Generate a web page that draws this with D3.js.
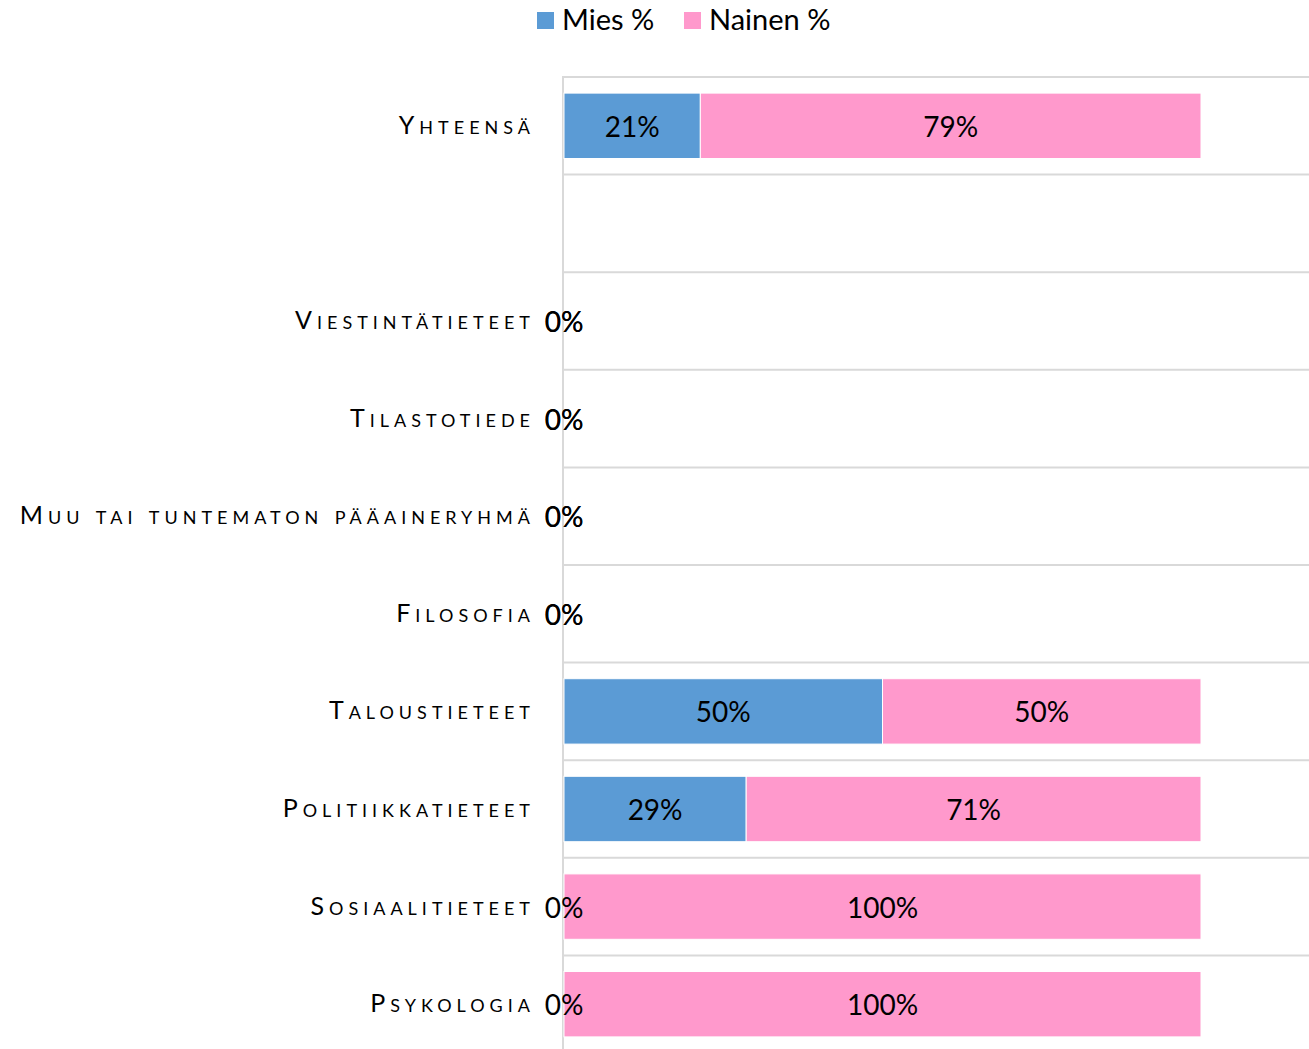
<!DOCTYPE html>
<html><head><meta charset="utf-8">
<script src="https://cdn.jsdelivr.net/npm/d3@7"></script>
<style>
html,body{margin:0;padding:0;background:#fff;}
svg{display:block;}
</style></head>
<body>
<svg id="chart" width="1309" height="1049"></svg>
<script>
const categories = ["Yhteensä","","Viestintätieteet","Tilastotiede","Muu tai tuntematon pääaineryhmä","Filosofia","Taloustieteet","Politiikkatieteet","Sosiaalitieteet","Psykologia"];
const seriesNames = ["Mies %","Nainen %"];
const mies = [0.214, null, 0, 0, 0, 0, 0.50, 0.286, 0, 0];
const nainen = [0.786, null, 0, 0, 0, 0, 0.50, 0.714, 1.00, 1.00];
const colors = ["#5B9BD5","#FF99CC"];

const svg = d3.select("#chart");
const x = d3.scaleLinear().domain([0,1]).range([564,1201]);
const y = d3.scaleBand().domain(categories).range([77,1053]).paddingInner(0.33).paddingOuter(0.165);
const step = y.step(), gap = (step - y.bandwidth())/2;

// gridlines
const gl = categories.map(c => y(c) - gap).concat([y(categories[categories.length-1]) + y.bandwidth() + gap]);
svg.append("g").selectAll("line").data(gl).join("line")
  .attr("x1",563).attr("x2",1309).attr("y1",d=>d).attr("y2",d=>d)
  .attr("stroke","#d9d9d9").attr("stroke-width",2);
// axis line
svg.append("line").attr("x1",563).attr("x2",563).attr("y1",76).attr("y2",1049)
  .attr("stroke","#d9d9d9").attr("stroke-width",2);

const rows = categories.map((c,i)=>({c, m:mies[i], n:nainen[i]}));
const stacked = [];
rows.forEach(r=>{
  if(r.m===null) return;
  stacked.push({c:r.c, s:0, x0:0, x1:r.m, v:r.m});
  stacked.push({c:r.c, s:1, x0:r.m, x1:r.m+r.n, v:r.n});
});

svg.append("g").selectAll("rect").data(stacked.filter(d=>d.v>0)).join("rect")
  .attr("x",d=>x(d.x0)).attr("width",d=>x(d.x1)-x(d.x0))
  .attr("y",d=>y(d.c)).attr("height",y.bandwidth())
  .attr("fill",d=>colors[d.s]).attr("stroke","#fff").attr("stroke-width",1);

svg.append("g").selectAll("text").data(stacked).join("text")
  .attr("x",d=>x((d.x0+d.x1)/2)).attr("y",d=>y(d.c)+y.bandwidth()/2)
  .attr("text-anchor","middle").attr("dominant-baseline","central")
  .style("font-family","Lato, 'Open Sans', sans-serif").style("font-size","28px").attr("fill","#000")
  .text(d=>Math.round(d.v*100)+"%");

// category labels
svg.append("g").selectAll("text").data(categories).join("text")
  .attr("x",535).attr("y",c=>y(c)+y.bandwidth()/2-2)
  .attr("text-anchor","end").attr("dominant-baseline","central")
  .style("font-family","Lato, 'Open Sans', sans-serif").style("font-size","25px")
  .style("font-variant","small-caps").style("letter-spacing","5px").attr("fill","#000")
  .text(c=>c);

// legend
const lg = svg.append("g");
const lx = [537,684];
seriesNames.forEach((s,i)=>{
  lg.append("rect").attr("x",lx[i]).attr("y",12).attr("width",17).attr("height",17).attr("fill",colors[i]);
  lg.append("text").attr("x",lx[i]+25).attr("y",18).attr("dominant-baseline","central")
    .style("font-family","Lato, 'Open Sans', sans-serif").style("font-size","29px").attr("fill","#000").text(s);
});
</script>
</body></html>
